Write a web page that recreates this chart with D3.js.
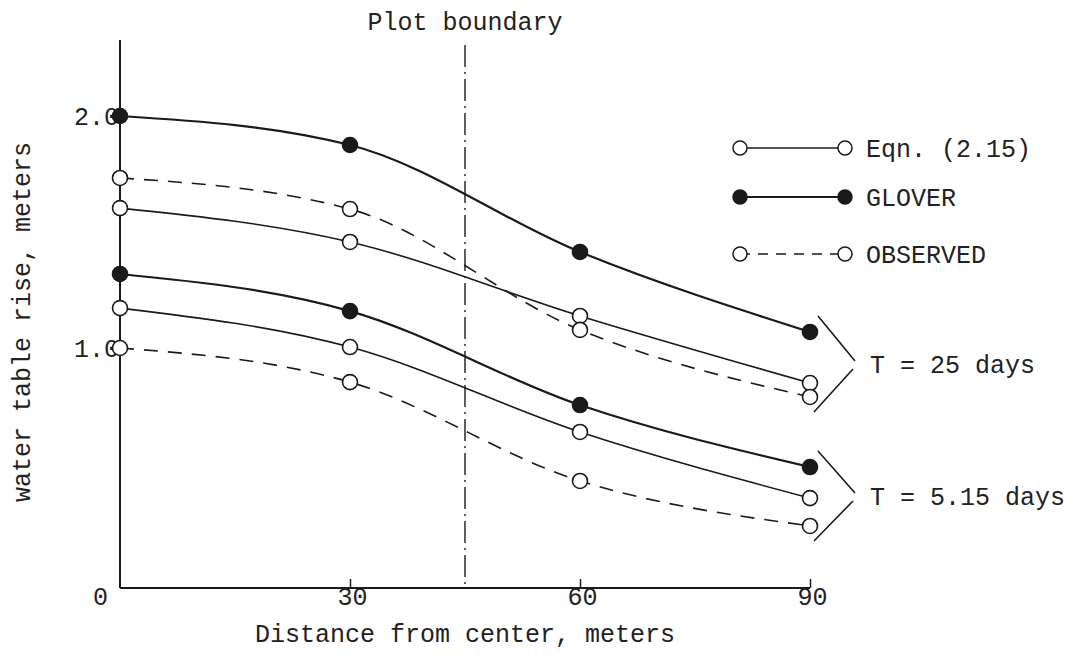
<!DOCTYPE html>
<html><head><meta charset="utf-8">
<script src="https://cdn.jsdelivr.net/npm/d3@7"></script>
<style>
html,body{margin:0;padding:0;background:#fff;}
text{font-family:"Liberation Mono","DejaVu Sans Mono",monospace;fill:#222;}
</style></head><body>
<svg id="c" width="1085" height="661"></svg>
<script>
const distances = [0, 30, 60, 90];
const xTicks = [0, 30, 60, 90];
const yTicks = [1.0, 2.0];
const plotBoundary = 45;

const glover25 = [2.00, 1.875, 1.414, 1.069];
const eqn25    = [1.603, 1.457, 1.138, 0.849];
const obs25    = [1.733, 1.599, 1.078, 0.789];
const glover5  = [1.319, 1.159, 0.754, 0.487];
const eqn5     = [1.172, 1.004, 0.638, 0.353];
const obs5     = [1.000, 0.853, 0.427, 0.233];

const seriesNames = ["Eqn. (2.15)", "GLOVER", "OBSERVED"];
const groupLabels = ["T = 25 days", "T = 5.15 days"];

const svg = d3.select("#c");
const ink = "#1a1a1a";
const x = d3.scaleLinear().domain([0, 90]).range([120, 810]);
const y = d3.scaleLinear().domain([0, 2.0]).range([580, 116]);
const axisY = 588, axisTop = 40;

const styles = {
  eqn: {w: 1.6, dash: null, fill: "#fff"},
  glover: {w: 2.2, dash: null, fill: ink},
  obs: {w: 1.6, dash: "14,10", fill: "#fff"}
};

const series = [
  {v: glover25, s: "glover"}, {v: eqn25, s: "eqn"}, {v: obs25, s: "obs"},
  {v: glover5, s: "glover"}, {v: eqn5, s: "eqn"}, {v: obs5, s: "obs"}
];

// axes
svg.append("line").attr("x1", x(0)).attr("x2", x(0)).attr("y1", axisTop).attr("y2", axisY)
  .attr("stroke", ink).attr("stroke-width", 2);
svg.append("line").attr("x1", x(0)).attr("x2", x(90)).attr("y1", axisY).attr("y2", axisY)
  .attr("stroke", ink).attr("stroke-width", 2);
const xAxis = d3.axisBottom(x).tickValues(xTicks).tickSize(0).tickSizeOuter(0).tickFormat(d3.format("d"));
const gx = svg.append("g").attr("transform", `translate(0,${axisY})`).call(xAxis);
gx.select(".domain").remove();
gx.selectAll(".tick text").attr("font-size", 25).attr("dy", "0.55em").attr("fill", "#333")
  .attr("dx", d => d === 0 ? -20 : 2);
gx.selectAll(".tick").filter(d => d > 0).append("line").attr("y1", 0).attr("y2", -9)
  .attr("stroke", ink).attr("stroke-width", 1.5);

const yAxis = d3.axisLeft(y).tickValues(yTicks).tickSize(0).tickFormat(d3.format(".1f"));
const gy = svg.append("g").attr("transform", `translate(${x(0)},0)`).call(yAxis);
gy.select(".domain").remove();
gy.selectAll(".tick text").attr("font-size", 25).attr("dx", "2px").attr("fill", "#444");

// plot boundary
svg.append("line").attr("x1", x(plotBoundary)).attr("x2", x(plotBoundary))
  .attr("y1", 45).attr("y2", axisY).attr("stroke", ink).attr("stroke-width", 1.4)
  .attr("stroke-dasharray", "22,5,2,5");
svg.append("text").attr("x", x(plotBoundary)).attr("y", 30).attr("text-anchor", "middle")
  .attr("font-size", 25).text("Plot boundary");

// curves
const line = d3.line().x((d, i) => x(distances[i])).y(d => y(d)).curve(d3.curveMonotoneX);
series.forEach(sr => {
  const st = styles[sr.s];
  svg.append("path").attr("d", line(sr.v)).attr("fill", "none").attr("stroke", ink)
    .attr("stroke-width", st.w).attr("stroke-dasharray", st.dash);
});
series.forEach(sr => {
  const st = styles[sr.s];
  svg.selectAll(null).data(sr.v).enter().append("circle")
    .attr("cx", (d, i) => x(distances[i])).attr("cy", d => y(d)).attr("r", 7.5)
    .attr("fill", st.fill).attr("stroke", ink).attr("stroke-width", 1.6);
});

// legend
const legKeys = ["eqn", "glover", "obs"];
const legY = [148, 197, 254];
legKeys.forEach((k, i) => {
  const st = styles[k];
  const g = svg.append("g");
  g.append("line").attr("x1", 740).attr("x2", 845).attr("y1", legY[i]).attr("y2", legY[i])
    .attr("stroke", ink).attr("stroke-width", st.w).attr("stroke-dasharray", k === "obs" ? "10,8" : null);
  [740, 845].forEach(cx => g.append("circle").attr("cx", cx).attr("cy", legY[i]).attr("r", 7)
    .attr("fill", st.fill).attr("stroke", ink).attr("stroke-width", 1.5));
  g.append("text").attr("x", 866).attr("y", legY[i]).attr("dy", "0.35em").attr("font-size", 25)
    .text(seriesNames[i]);
});

// group brackets
const groups = [
  {top: glover25[3], bot: obs25[3], label: groupLabels[0]},
  {top: glover5[3], bot: obs5[3], label: groupLabels[1]}
];
groups.forEach(gp => {
  const yt = y(gp.top) - 16, yb = y(gp.bot) + 15, ym = (yt + yb) / 2;
  const x0 = x(90) + 4, x1 = x(90) + 45;
  svg.append("path").attr("d", `M${x0+4},${yt} L${x1},${ym-3} M${x1-2},${ym+5} L${x0},${yb}`)
    .attr("fill", "none").attr("stroke", ink).attr("stroke-width", 1.6);
  svg.append("text").attr("x", x1 + 15).attr("y", ym).attr("dy", "0.35em").attr("font-size", 25)
    .text(gp.label);
});

// axis titles
svg.append("text").attr("x", x(45)).attr("y", 642).attr("text-anchor", "middle")
  .attr("font-size", 25).text("Distance from center, meters");
svg.append("text").attr("transform", "translate(30,322) rotate(-90)").attr("text-anchor", "middle")
  .attr("font-size", 25).text("water table rise, meters");
</script>
</body></html>
